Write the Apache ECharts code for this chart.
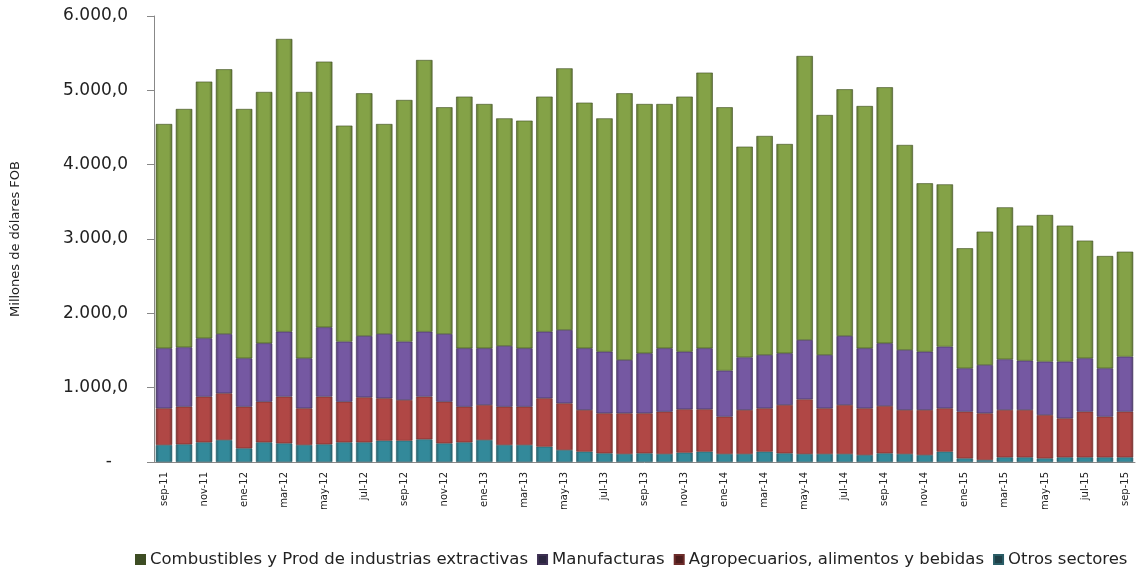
<!DOCTYPE html>
<html>
<head>
<meta charset="utf-8">
<script src="https://cdn.jsdelivr.net/npm/echarts@6/dist/echarts.min.js"></script>
<style>
html,body{margin:0;padding:0;background:#fff;}
#c{width:1137px;height:571px;}
</style>
</head>
<body>
<div id="c"></div>
<script>
const months = ["sep-11","oct-11","nov-11","dic-11","ene-12","feb-12","mar-12","abr-12","may-12","jun-12","jul-12","ago-12",
"sep-12","oct-12","nov-12","dic-12","ene-13","feb-13","mar-13","abr-13","may-13","jun-13","jul-13","ago-13",
"sep-13","oct-13","nov-13","dic-13","ene-14","feb-14","mar-14","abr-14","may-14","jun-14","jul-14","ago-14",
"sep-14","oct-14","nov-14","dic-14","ene-15","feb-15","mar-15","abr-15","may-15","jun-15","jul-15","ago-15","sep-15"];

const otros = [229,238,265,296,184,265,251,229,238,265,265,287,287,305,251,265,296,229,229,206,161,139,117,108,
117,108,126,139,108,108,139,117,108,108,108,94,117,108,94,139,49,27,63,63,49,63,63,63,63];
const agro = [493,506,614,628,560,546,628,493,641,546,605,570,547,574,560,479,471,515,515,651,628,561,538,547,
538,569,583,570,502,592,583,650,735,614,659,628,636,592,606,583,628,628,637,637,583,524,614,547,614];
const manuf = [808,799,785,798,651,786,874,673,933,808,825,865,785,874,911,786,763,817,786,896,987,830,829,717,
807,853,775,821,619,708,718,695,798,718,928,808,844,807,784,830,583,650,681,663,718,763,718,650,740];
const comb = [3017,3206,3453,3561,3354,3381,3938,3583,3574,2906,3265,2825,3251,3655,3050,3385,3286,3062,3062,3162,3520,3304,3139,3588,
3354,3286,3431,3708,3543,2834,2946,2816,3821,3228,3319,3259,3444,2758,2265,2183,1615,1794,2045,1817,1973,1830,1583,1511,1412];

const seriesNames = ["Combustibles y Prod de industrias extractivas","Manufacturas","Agropecuarios, alimentos y bebidas","Otros sectores"];

function fmt(v){
  if (v === 0) return '-   ';
  const s = Math.round(v).toString().replace(/\B(?=(\d{3})+(?!\d))/g, '.');
  return s + ',0';
}

function grad(c1, c2){
  return new echarts.graphic.LinearGradient(0,0,1,0,[
    {offset:0,color:c2},{offset:0.2,color:c1},{offset:0.8,color:c1},{offset:1,color:c2}
  ]);
}

const F = 'DejaVu Sans, Liberation Sans, Arial, sans-serif';
const chart = echarts.init(document.getElementById('c'));
const base = {type:'bar', stack:'t', barCategoryGap:'18%'};
chart.setOption({
  animation:false,
  textStyle:{fontFamily:F},
  legend:{
    top:546, left:130, itemWidth:9, itemHeight:9, itemGap:9, icon:'rect',
    textStyle:{fontSize:16.5, color:'#222', fontFamily:F},
    data:[
      {name:seriesNames[0], itemStyle:{color:'#3d4d25'}},
      {name:seriesNames[1], itemStyle:{color:'#2c2640'}},
      {name:seriesNames[2], itemStyle:{color:'#4d1c1c'}},
      {name:seriesNames[3], itemStyle:{color:'#1f4048'}}
    ]
  },
  grid:{left:154, right:2, top:16, bottom:109, containLabel:false, outerBoundsMode:'none'},
  xAxis:{
    type:'category', data:months,
    axisLine:{lineStyle:{color:'#888'}},
    axisTick:{interval:1, length:4, lineStyle:{color:'#888'}},
    axisLabel:{interval:1, rotate:90, fontSize:10, color:'#222', margin:10, fontFamily:F}
  },
  yAxis:{
    type:'value', min:0, max:6000, interval:1000,
    name:'Millones de dólares FOB', nameLocation:'middle', nameGap:132, nameRotate:90,
    nameTextStyle:{fontSize:13, color:'#222', fontFamily:F},
    axisLine:{show:true, lineStyle:{color:'#888'}},
    axisTick:{show:true, length:7, lineStyle:{color:'#888'}},
    splitLine:{show:false},
    axisLabel:{formatter:fmt, fontSize:17, color:'#222', margin:26, fontFamily:F}
  },
  series:[
    Object.assign({}, base, {name:seriesNames[3], data:otros,
      itemStyle:{color:grad('#33899a','#245f6b'), borderColor:'#2a5d66', borderWidth:0.6}}),
    Object.assign({}, base, {name:seriesNames[2], data:agro,
      itemStyle:{color:grad('#b04745','#7e3331'), borderColor:'#6d2c2a', borderWidth:0.6}}),
    Object.assign({}, base, {name:seriesNames[1], data:manuf,
      itemStyle:{color:grad('#7558a2','#523d73'), borderColor:'#3d2f52', borderWidth:0.6}}),
    Object.assign({}, base, {name:seriesNames[0], data:comb,
      itemStyle:{color:grad('#84a247','#5e7432'), borderColor:'#3e4d22', borderWidth:0.6}})
  ]
});
</script>
</body>
</html>
